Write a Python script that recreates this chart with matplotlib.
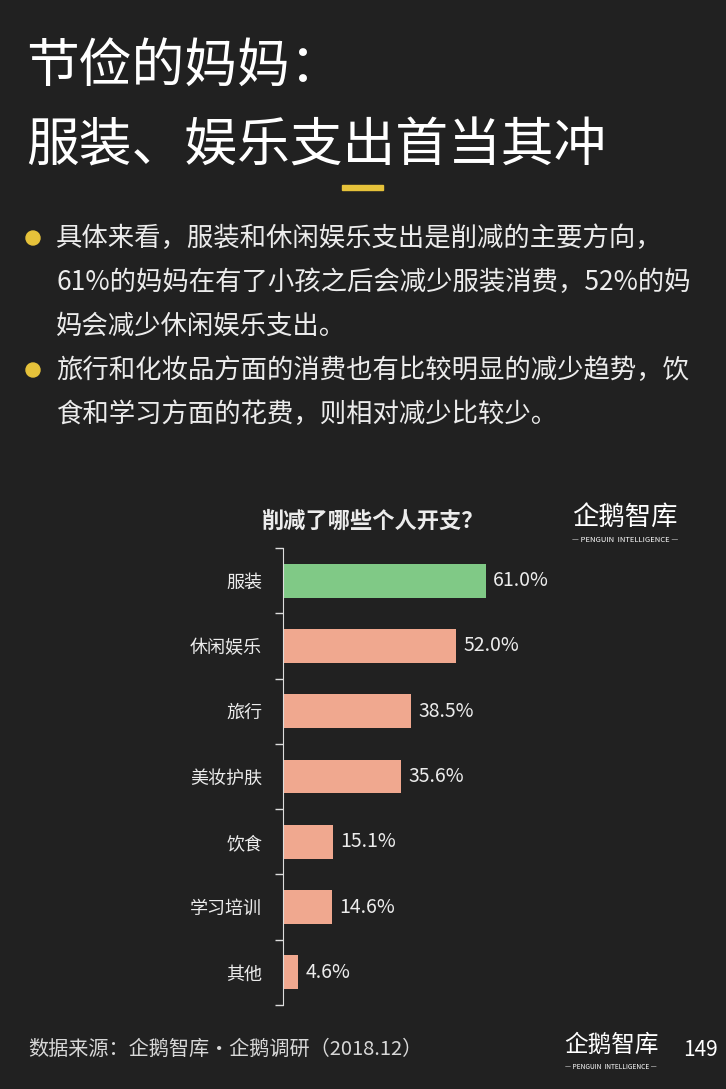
import matplotlib.pyplot as plt
from matplotlib.patches import Ellipse, Rectangle
from matplotlib.ticker import FixedLocator

plt.rcParams['font.family'] = ['Noto Sans CJK SC', 'DejaVu Sans']

categories = ["服装", "休闲娱乐", "旅行", "美妆护肤", "饮食", "学习培训", "其他"]
values = [61.0, 52.0, 38.5, 35.6, 15.1, 14.6, 4.6]
value_labels = ["61.0%", "52.0%", "38.5%", "35.6%", "15.1%", "14.6%", "4.6%"]

title_lines = ["节俭的妈妈：", "服装、娱乐支出首当其冲"]
bullet_lines = [
    ["具体来看，服装和休闲娱乐支出是削减的主要方向，",
     "61%的妈妈在有了小孩之后会减少服装消费，52%的妈",
     "妈会减少休闲娱乐支出。"],
    ["旅行和化妆品方面的消费也有比较明显的减少趋势，饮",
     "食和学习方面的花费，则相对减少比较少。"],
]
chart_title = "削减了哪些个人开支？"
source = "数据来源：企鹅智库·企鹅调研（2018.12）"
page_no = "149"

BG = "#212121"
TXT = "#ececec"
YELLOW = "#e6c23a"
GREEN = "#80c986"
SALMON = "#f0a88f"

W, H = 726, 1089
fig = plt.figure(figsize=(W / 100, H / 100), dpi=100, facecolor=BG)


def fx(px):
    return px / W


def fy(py):
    return 1 - py / H


# header
fig.text(fx(26), fy(66), title_lines[0], color="white", fontsize=38, va="center", ha="left")
fig.text(fx(26), fy(146), title_lines[1], color="white", fontsize=38, va="center", ha="left")
fig.patches.append(Rectangle((fx(342), fy(190)), fx(41), 5 / H, transform=fig.transFigure,
                             color=YELLOW, zorder=3))

# bullets
y = 238
for block in bullet_lines:
    fig.patches.append(Ellipse((fx(33), fy(y)), fx(14), 14 / H, transform=fig.transFigure,
                               color=YELLOW))
    for line in block:
        fig.text(fx(56), fy(y), line, color=TXT, fontsize=19, va="center", ha="left")
        y += 44

# chart
ax = fig.add_axes([fx(283), fy(1005), fx(417), 457 / H])
ax.set_facecolor(BG)
ypos = list(range(len(categories)))
colors = [GREEN] + [SALMON] * (len(categories) - 1)
ax.barh(ypos, values, height=0.52, color=colors)
for yp, v, lab in zip(ypos, values, value_labels):
    ax.text(v + 2.2, yp, lab, color=TXT, fontsize=14, va="center", ha="left")

ax.set_xlim(0, 125.3)
ax.set_ylim(len(categories) - 0.5, -0.5)
ax.set_yticks(ypos)
ax.set_yticklabels(categories, color=TXT, fontsize=13)
ax.yaxis.set_minor_locator(FixedLocator([i - 0.5 for i in range(len(categories) + 1)]))
ax.tick_params(axis="y", which="major", length=0, pad=15)
ax.tick_params(axis="y", which="minor", length=6, color="#dddddd", width=1)
ax.set_xticks([])
for side in ["top", "right", "bottom"]:
    ax.spines[side].set_visible(False)
ax.spines["left"].set_color("#dddddd")

fig.text(fx(372), fy(521), chart_title, color=TXT, fontsize=16, fontweight="bold",
         va="center", ha="center")

# logos
fig.text(fx(625), fy(517), "企鹅智库", color="white", fontsize=19, va="center", ha="center")
fig.text(fx(625), fy(540), "— PENGUIN  INTELLIGENCE —", color="white", fontsize=5.5,
         va="center", ha="center")
fig.text(fx(611), fy(1045), "企鹅智库", color="white", fontsize=17, va="center", ha="center")
fig.text(fx(611), fy(1067), "— PENGUIN  INTELLIGENCE —", color="white", fontsize=4.8,
         va="center", ha="center")
fig.text(fx(683), fy(1050), page_no, color="white", fontsize=15, va="center", ha="left")

# footer
fig.text(fx(28), fy(1049), source, color="#d8d8d8", fontsize=14.5, va="center", ha="left")

fig.savefig("out.png", dpi=100, facecolor=BG)
